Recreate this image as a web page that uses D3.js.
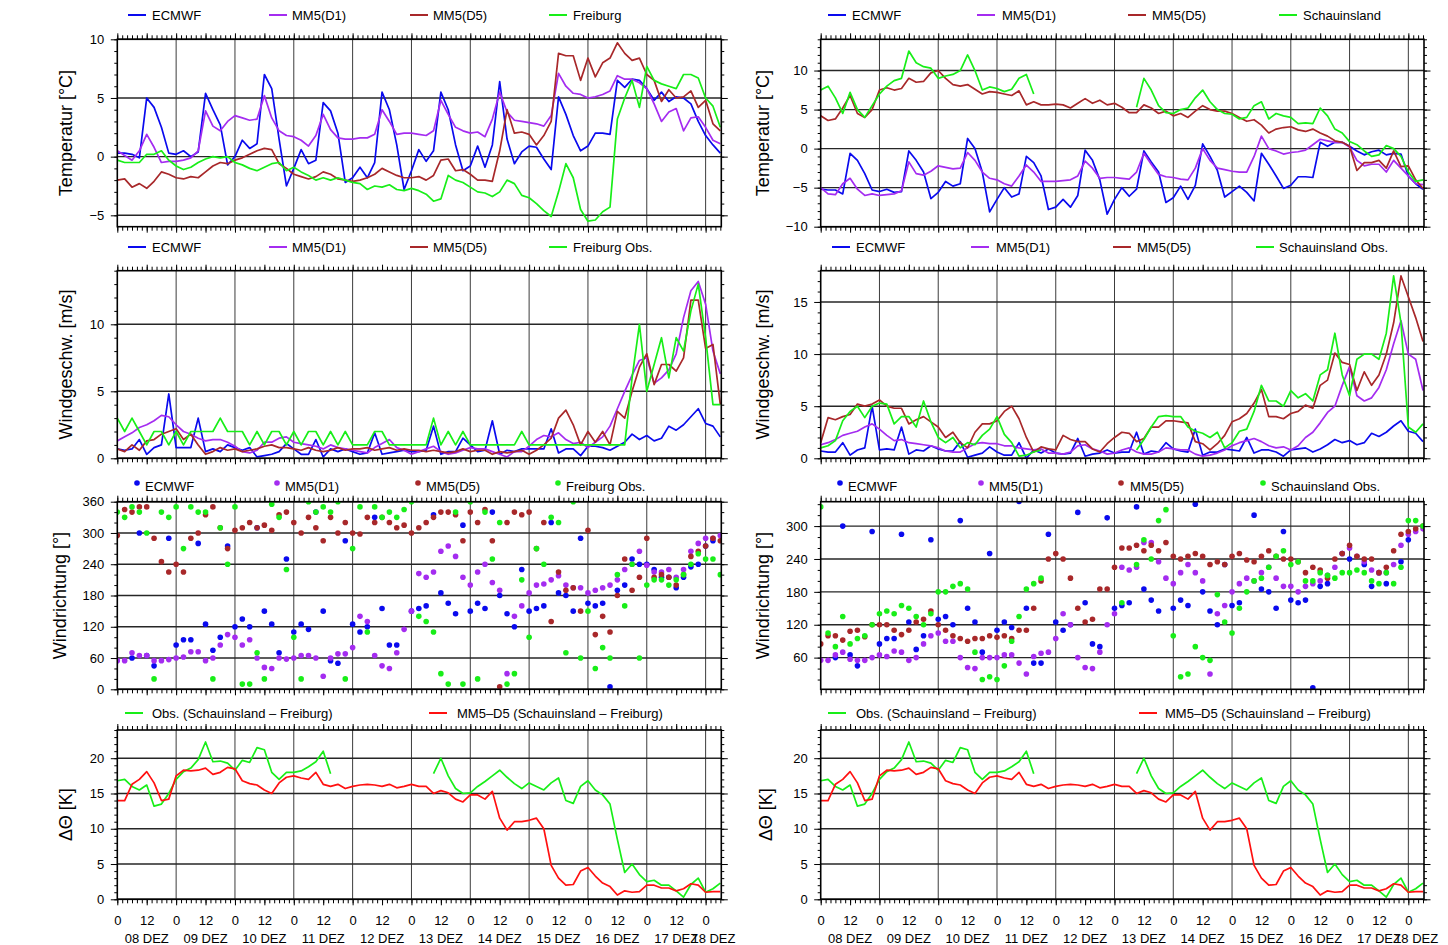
<!DOCTYPE html>
<html>
<head>
<meta charset="utf-8">
<script src="https://cdn.jsdelivr.net/npm/d3@7"></script>
<style>
  body { margin: 0; background: #fff; }
  svg { display: block; font-family: "Liberation Sans", Arial, Helvetica, sans-serif; }
  .tick text { font-family: "Liberation Sans", Arial, Helvetica, sans-serif; font-size: 13px; fill: #000; }
  .tick line { stroke: #000; stroke-width: 1; }
  .lbl { font-size: 13px; fill: #000; }
  .title { font-size: 18px; fill: #000; }
</style>
</head>
<body>
<svg width="1448" height="945"></svg>
<script>
// 3-hourly samples, 08 DEZ 00 UTC .. 18 DEZ 06 UTC
const hours = d3.range(0, 247, 3);
const hourEnd = 246.4;
const dayLabels = ["08 DEZ", "09 DEZ", "10 DEZ", "11 DEZ", "12 DEZ", "13 DEZ", "14 DEZ", "15 DEZ", "16 DEZ", "17 DEZ", "18 DEZ"];

// Freiburg temperature
const frTempEcmwf = [
  0.3, 0.3, 0.2, -0.1, 5.0, 4.2, 2.5, 0.3, 0.2, 0.5,
  0.0, 0.4, 5.4, 4.0, 2.7, -0.7, 0.0, 1.4, 0.7, 1.1,
  7.0, 5.8, 1.5, -2.5, -1.0, 0.6, -0.6, -0.3, 4.6, 3.9,
  2.0, -2.2, -1.8, -0.9, -1.8, -0.5, 5.5, 4.0, 1.0, -2.8,
  -1.2, 0.6, -0.4, 0.5, 5.5, 4.0, 1.0, -1.2, -0.8, 0.9,
  -0.9, 1.0, 6.4, 1.5, -0.6, 0.4, 0.9, 0.8, -0.2, -1.1,
  5.1, 3.6, 1.8, 0.5, 0.9, 2.0, 2.0, 1.9, 6.5, 5.9,
  6.6, 6.5, 5.8, 4.8, 5.5, 4.7, 5.1, 5.0, 4.5, 3.0,
  1.8, 1.0, 0.3
];
const frTempD1 = [
  0.5, 0.1, -0.3, 0.5, 1.9, 0.8, -0.5, -0.4, -0.4, -0.3,
  -0.1, 0.5, 3.9, 2.6, 2.2, 3.0, 3.5, 3.3, 3.1, 3.2,
  5.2, 3.3, 2.2, 1.8, 1.7, 1.4, 0.9, 1.8, 3.6, 2.3,
  1.6, 1.5, 1.5, 1.6, 1.6, 1.9, 4.0, 3.0, 1.9, 2.0,
  2.0, 1.9, 1.8, 2.2, 4.8, 3.6, 2.5, 2.2, 2.0, 2.1,
  1.7, 3.2, 5.5, 3.8, 3.1, 3.0, 2.9, 2.8, 2.6, 3.5,
  7.1, 6.0, 5.4, 5.3, 5.0, 5.1, 5.3, 5.6, 6.9, 6.6,
  6.6, 6.3, 5.8, 4.5, 3.0, 3.8, 4.1, 2.2, 3.3, 3.4,
  2.5, 1.4, 1.1
];
const frTempD5 = [
  -2.0, -1.9, -2.6, -2.3, -2.7, -2.1, -1.3, -1.5, -1.8, -1.9,
  -1.7, -1.8, -1.3, -0.8, -0.5, -0.6, -0.3, -0.1, 0.2, 0.5,
  0.7, 0.6, -0.6, -1.0, -1.5, -1.7, -1.9, -1.7, -1.3, -1.5,
  -1.9, -2.0, -2.1, -2.0, -1.8, -1.5, -1.0, -1.3, -1.6, -1.8,
  -1.8, -1.7, -2.0, -1.6, -0.3, -0.2, -1.2, -1.1, -1.5, -2.0,
  -2.0, -2.1, 0.5, 4.0, 2.0, 2.1, 1.9, 1.0, 1.8, 3.0,
  8.8, 8.6, 8.6, 6.5, 8.4, 6.8, 8.0, 8.4, 9.7, 8.8,
  8.2, 8.4, 7.0, 6.5, 4.7, 5.7, 5.0, 5.1, 5.6, 4.2,
  4.8, 2.8, 2.2
];
const frTempObs = [
  -0.3, -0.5, -0.5, -0.5, 0.2, 0.2, 0.5, -0.3, -0.8, -1.1,
  -0.9, -0.5, -0.2, 0.0, -0.1, 0.0, -0.5, -0.7, -1.0, -1.2,
  -0.9, -0.6, -0.5, -1.2, -0.9, -1.3, -1.6, -2.0, -1.8, -2.0,
  -1.8, -2.0, -2.2, -2.3, -2.8, -2.5, -2.6, -2.4, -2.8, -2.9,
  -2.7, -2.9, -3.2, -3.8, -3.6, -1.6, -2.0, -2.2, -2.6, -3.0,
  -3.1, -3.4, -3.0, -2.0, -2.3, -3.3, -3.5, -4.0, -4.6, -5.1,
  -3.0, -0.6, -1.8, -4.5, -5.5, -5.4, -4.7, -4.3, 3.2, 5.0,
  6.5, 4.2, 7.7, 6.5, 6.2, 6.0, 5.8, 7.0, 7.0, 6.7,
  5.0, 4.3, 2.5
];

// Schauinsland temperature
const siTempEcmwf = [
  -5.2, -5.3, -5.3, -5.8, -0.6, -1.5, -3.2, -5.3, -5.5, -5.2,
  -5.6, -5.5, -0.3, -1.5, -3.0, -6.4, -5.6, -4.2, -4.8, -4.5,
  1.3, 0.0, -3.0, -8.1, -6.5, -5.0, -6.2, -5.8, -1.0, -1.8,
  -3.5, -7.8, -7.5, -6.5, -7.5, -6.0, -0.2, -1.5, -4.0, -8.4,
  -6.5, -5.0, -6.1, -5.2, -0.3, -1.7, -3.0, -6.9, -6.3, -4.8,
  -6.5, -4.7, 0.6, -1.0, -2.8, -6.2, -5.5, -4.8, -5.6, -6.7,
  -0.6, -2.0, -3.5, -5.1, -4.7, -3.6, -3.6, -3.7, 0.8, 0.3,
  0.8, 0.8, 0.3, -0.3, -0.8, -0.4, -0.2, -0.8, -0.6, -0.7,
  -3.5, -4.5, -5.2
];
const siTempD1 = [
  -5.0, -5.8, -5.9, -4.5, -3.8, -5.2, -6.0, -5.8, -6.0, -5.9,
  -5.8, -5.4, -1.7, -3.2, -3.4, -2.9, -2.2, -2.4, -2.6, -2.5,
  -0.5, -1.5, -3.0, -3.8, -4.0, -4.5, -4.8, -3.5, -2.1, -3.0,
  -4.2, -4.2, -4.2, -4.1, -4.0, -3.5, -1.6, -2.5, -3.8, -3.7,
  -3.7, -3.8, -3.9, -3.0, -0.6, -2.0, -3.3, -3.6, -3.7, -3.9,
  -4.0, -2.5, 0.0, -1.5, -2.5, -2.7, -2.9, -3.0, -3.0, -1.0,
  1.6, 0.0, -0.3, -0.7, -0.5, -0.4, -0.2, 0.5, 1.2, 1.0,
  0.8, 0.8, 0.2, -1.5, -2.2, -2.0, -2.0, -3.0, -1.5, -2.5,
  -3.5, -4.5, -4.6
];
const siTempD5 = [
  4.2, 3.6, 3.8, 5.2, 6.8, 4.5, 4.0, 5.0, 7.5, 7.8,
  7.5, 7.7, 9.0, 8.5, 8.6, 9.7, 10.0, 9.0, 8.2, 8.0,
  8.2, 7.6, 7.0, 7.3, 7.2, 7.0, 6.8, 7.4, 5.6, 6.0,
  5.6, 5.6, 5.7, 5.6, 5.2, 5.8, 6.4, 5.8, 6.2, 5.6,
  5.8, 5.3, 4.6, 4.6, 5.6, 5.2, 4.5, 4.8, 4.2, 4.5,
  4.0, 4.8, 5.5, 5.0, 4.8, 4.8, 4.5, 4.0, 3.5, 3.7,
  3.0, 2.0, 2.5, 2.7, 2.8, 2.4, 2.2, 2.5, 2.0, 1.6,
  1.0, 0.8, 0.3, -2.8, -1.8, -1.8, -1.5, -2.5, -0.3, -2.3,
  -2.2, -4.0, -5.1
];
const siTempObs = [
  7.5, 8.0, 6.5, 4.5, 7.2, 5.0, 4.0, 5.5, 7.0, 8.0,
  8.7, 9.0, 12.5, 11.0, 10.5, 10.3, 9.0, 9.3, 9.5, 10.0,
  12.0, 10.0, 7.5, 7.9, 7.7, 7.3, 7.6, 9.0, 9.5, 7.0,
  null, null, null, null, null, null, null, null, null, null,
  null, null, null, 5.3, 9.0, 7.5, 5.5, 4.6, 4.5, 5.0,
  5.2, 6.5, 7.5, 6.0, 5.0, 4.5, 4.4, 3.8, 4.0, 5.5,
  6.0, 3.8, 4.5, 4.2, 4.0, 3.2, 3.3, 3.2, 5.2, 4.2,
  2.5, 2.0, 0.9, 0.5, -0.3, -1.0, -0.8, 0.4, 0.0, -1.0,
  -3.0, -4.2, -4.0
];

// Freiburg wind speed
const frWindEcmwf = [
  0.7, 0.6, 0.7, 1.4, 0.3, 0.8, 1.0, 4.8, 0.8, 0.8,
  0.8, 3.0, 0.5, 0.7, 0.5, 1.0, 0.8, 0.6, 0.8, 0.1,
  0.2, 0.3, 0.5, 1.1, 0.7, 0.3, 0.3, 1.4, 0.1, 0.7,
  0.5, 0.7, 0.5, 0.3, 0.4, 1.9, 0.3, 0.4, 0.5, 0.6,
  0.5, 0.5, 0.6, 2.4, 0.3, 0.5, 0.5, 1.5, 1.0, 0.5,
  0.6, 2.8, 0.3, 0.6, 0.5, 0.7, 0.7, 0.7, 0.7, 2.2,
  0.4, 0.7, 0.7, 0.2, 0.9, 0.9, 0.8, 0.6, 0.9, 1.2,
  1.8, 1.4, 1.7, 1.3, 1.5, 2.4, 2.1, 2.5, 3.1, 3.7,
  2.6, 2.4, 1.6
];
const frWindD1 = [
  1.3, 1.6, 1.9, 2.3, 2.5, 2.8, 3.2, 3.1, 2.5, 2.0,
  1.8, 1.5, 1.3, 1.4, 1.4, 1.2, 0.9, 0.5, 0.4, 0.6,
  1.2, 1.2, 1.5, 1.6, 1.2, 1.1, 1.0, 0.9, 0.7, 1.0,
  0.8, 0.7, 0.6, 0.5, 0.4, 0.8, 1.1, 1.4, 0.8, 0.6,
  0.3, 0.5, 0.7, 0.9, 0.5, 0.3, 0.4, 0.6, 0.8, 0.7,
  0.7, 0.5, 0.3, 0.1, 0.5, 0.5, 0.9, 1.4, 1.7, 1.6,
  1.9, 1.4, 1.1, 1.2, 0.8, 1.2, 1.6, 2.4, 3.7, 5.0,
  6.2, 7.3, 7.5, 5.6, 6.0, 6.6, 7.8, 10.5, 12.5, 13.2,
  11.5, 8.0, 6.3
];
const frWindD5 = [
  0.7, 0.5, 1.0, 0.6, 1.3, 1.4, 1.8, 2.0, 2.2, 1.4,
  1.8, 1.0, 0.3, 0.5, 0.8, 0.6, 0.7, 0.5, 0.6, 0.7,
  0.9, 1.0, 0.8, 0.8, 0.7, 0.6, 0.8, 0.6, 0.5, 0.6,
  0.8, 0.6, 0.7, 0.7, 0.8, 0.6, 0.7, 0.8, 0.6, 0.7,
  0.6, 0.6, 0.5, 0.6, 0.5, 0.4, 0.5, 0.7, 0.5, 0.6,
  0.6, 0.3, 0.5, 0.4, 0.5, 0.6, 0.3, 0.6, 1.0, 1.5,
  3.0, 3.6, 2.5, 1.0, 2.0, 1.2, 2.0, 1.0, 3.5, 3.0,
  5.0, 6.8, 7.8, 5.5, 7.0, 7.0, 6.5, 7.5, 11.8, 11.8,
  8.2, 8.5, 4.0
];
const frWindObs = [
  3, 2, 3, 2, 1, 2, 2, 1, 2, 1,
  2, 2, 2, 2, 3, 2, 2, 2, 1, 2,
  1, 2, 2, 1, 2, 1, 2, 2, 1, 2,
  1, 2, 1, 1, 1, 2, 2, 1, 1, 1,
  1, 1, 1, 3, 1, 2, 1, 2, 1, 1,
  1, 1, 1, 1, 1, 2, 1, 1, 1, 1,
  1, 1, 1, 1, 1, 1, 1, 1, 1, 1,
  6, 10, 5, 7, 9, 6, 9, 8, 11, 13,
  9, 4, 4
];

// Schauinsland wind speed
const siWindEcmwf = [
  0.7, 0.6, 0.6, 1.5, 0.3, 0.8, 1.0, 5.0, 0.8, 0.9,
  0.8, 3.0, 0.4, 0.8, 0.7, 1.2, 0.9, 0.7, 0.7, 1.6,
  0.1, 0.3, 0.5, 1.1, 0.6, 0.3, 0.3, 1.5, 0.0, 0.8,
  0.5, 0.9, 0.5, 0.4, 0.5, 1.9, 0.2, 0.4, 0.5, 0.8,
  0.5, 0.6, 0.6, 2.5, 0.4, 0.7, 0.6, 1.5, 0.9, 0.7,
  0.6, 2.8, 0.3, 0.6, 0.6, 0.9, 0.8, 0.7, 2.0, 0.5,
  0.8, 0.8, 0.6, 0.2, 0.8, 0.9, 1.0, 0.6, 0.9, 1.3,
  1.8, 1.5, 1.7, 1.3, 1.5, 2.4, 2.1, 2.5, 3.1, 3.6,
  2.6, 2.4, 1.6
];
const siWindD1 = [
  1.3, 1.5, 1.8, 2.2, 2.4, 2.6, 3.0, 3.3, 2.8, 2.2,
  1.7, 1.8, 1.5, 1.4, 1.3, 1.2, 1.0, 0.7, 0.6, 0.6,
  1.0, 1.4, 1.5, 1.4, 1.4, 1.2, 1.2, 1.0, 0.9, 0.8,
  0.9, 0.5, 0.5, 0.4, 0.6, 1.2, 1.3, 0.9, 0.7, 0.4,
  0.5, 0.8, 1.0, 0.6, 0.4, 0.4, 0.6, 1.0, 0.9, 0.8,
  0.8, 0.4, 0.2, 0.3, 0.5, 0.8, 1.2, 1.5, 1.7, 1.9,
  1.6, 1.2, 1.0, 1.1, 0.8, 1.2, 2.0, 2.5, 3.4, 4.4,
  5.0, 7.0, 8.8, 6.0, 5.5, 5.8, 6.8, 8.5, 11.0, 13.2,
  10.0, 9.5, 6.5
];
const siWindD5 = [
  1.5, 3.9, 3.7, 4.0, 4.2, 5.2, 5.0, 5.2, 5.6, 5.0,
  4.8, 4.8, 3.3, 3.7, 4.0, 3.5, 3.0, 2.0, 2.5, 1.5,
  1.0, 2.5, 3.3, 3.3, 3.6, 4.5, 5.0, 3.8, 2.0, 0.6,
  1.1, 0.9, 0.8, 2.2, 1.8, 1.6, 1.6, 0.9, 0.6, 1.4,
  2.0, 2.5, 2.4, 1.6, 1.9, 3.0, 3.0, 3.6, 3.6, 3.5,
  3.4, 1.6, 1.4, 0.8, 1.4, 2.2, 3.5, 3.8, 4.3, 5.3,
  6.6, 4.0, 4.0, 3.8, 4.3, 4.5, 5.1, 4.8, 7.0, 7.5,
  10.1, 9.2, 9.0, 6.5, 8.3, 7.0, 8.0, 10.0, 13.0, 17.5,
  15.5, 13.5, 11.2
];
const siWindObs = [
  1.0, 1.2, 1.7, 3.6, 4.5, 5.0, 3.9, 5.0, 5.3, 5.2,
  3.3, 4.0, 4.0, 3.0, 5.5, 3.5, 2.0, 1.5, 2.0, 1.0,
  1.5, 1.3, 2.2, 2.8, 4.0, 2.3, 1.5, 0.2, 0.3, 0.6,
  0.8, null, null, null, null, null, null, null, null, null,
  null, null, null, 0.8, 1.8, 3.0, 4.0, 4.1, 4.0, 4.0,
  3.0, 2.6, 2.4, 2.0, 2.5, 1.0, 1.5, 2.6, 2.8, 4.5,
  7.0, 5.5, 5.5, 5.0, 6.5, 5.8, 6.2, 5.5, 8.0, 8.5,
  12.0, 8.0, 6.0, 9.5, 10.0, 10.0, 9.5, 12.0, 17.5, 13.0,
  3.0, 2.5, 3.3
];

// Freiburg wind direction
const frDirEcmwf = [
  null, null, 60, 300, 65, 45, null, 290, 85, 95,
  95, 280, 125, 75, 100, 275, 120, 135, 120, 310,
  150, 125, 70, 250, 110, 125, 115, 340, 150, 55,
  50, 285, 125, 110, 120, 330, 155, 85, 85, null,
  150, 155, 160, 335, 185, 165, 145, 315, 150, 165,
  155, 340, 180, 145, 120, 230, 150, 155, 160, 320,
  185, 180, 150, 290, 165, 160, 165, 5, 190, 200,
  250, 240, 240, 230, 215, 215, 195, 215, 235, 240,
  275, 285, null
];
const frDirD1 = [
  55, 55, 70, 65, 65, 55, 55, 57, 60, 62,
  72, 72, 55, 60, 85, 105, 100, 85, 95, 60,
  42, 40, 60, 58, 60, 65, 65, 60, 25, 60,
  68, 68, 80, 140, 130, 65, 45, 40, 70, 115,
  150, 222, 215, 225, 265, 275, 255, 215, 200, 225,
  240, 205, 190, 30, 140, 160, 185, 200, 202, 210,
  218, 200, 195, 195, 185, 190, 195, 200, 210, 230,
  240, 265, 238, 225, 225, 230, 215, 230, 265, 280,
  290, 290, 295
];
const frDirD5 = [
  295, 345, 340, 350, 350, 290, 245, 225, 240, 225,
  290, 300, 335, 350, 310, 270, 305, 310, 320, 310,
  315, 305, 335, 340, 320, 300, 330, 310, 285, 330,
  300, 320, 300, 298, 330, 320, 330, 320, 310, 315,
  300, 310, 320, 330, 340, 340, 335, 285, 340, 320,
  345, 285, 5, 320, 340, 335, 340, 270, 320, 130,
  225, 190, 195, 150, 305, 105, 140, 110, 180, 250,
  190, 215, 290, 215, 220, 215, 200, 220, 255, 265,
  275, 290, 285
];
const frDirObs = [
  340, 330, 350, 340, 300, 20, 340, 330, 350, 270,
  350, 340, 340, 20, 310, 240, 350, 10, 10, 70,
  20, 355, 330, 230, 100, 20, 360, 340, 350, 340,
  360, 20, 270, 350, 110, 350, 330, 340, 330, 345,
  360, 140, 130, 110, 30, 10, 340, 10, 360, 20,
  340, 250, 320, 10, 30, 210, 100, 270, 240, 330,
  320, 70, 360, 60, 150, 40, 80, 60, 220, 160,
  240, 60, 200, 210, 210, 200, 210, 220, 240, 260,
  250, 250, 220
];

// Schauinsland wind direction
const siDirEcmwf = [
  null, null, 60, 300, 65, 45, null, 290, 85, 95,
  95, 285, 125, 75, 100, 275, 130, 135, 120, 310,
  150, 125, 70, 250, 110, 125, 115, 345, 150, 50,
  50, 285, 125, 110, 120, 325, 160, 85, 80, 315,
  150, 155, 160, 335, 185, 165, 145, null, 150, 165,
  155, 340, 180, 145, 120, 230, 155, 160, null, 320,
  185, 180, 150, 290, 165, 160, 165, 5, 190, 195,
  null, 250, 240, null, 230, 190, 215, 195, null, 235,
  275, null, null
];
const siDirD1 = [
  55, 55, 65, 70, 57, 55, 55, 60, 65, 62,
  72, 70, 55, 60, 85, 100, 105, 90, 90, 60,
  42, 40, 60, 60, 60, 65, 65, 50, 30, 62,
  68, 70, 95, 140, 120, 60, 42, 40, 70, 120,
  140, 225, 220, 225, 270, 270, 235, 205, 195, 215,
  230, 215, 200, 30, 140, 155, 180, 195, 205, 200,
  215, 225, 205, 190, 190, 180, 190, 195, 200, 210,
  225, 250, 260, 245, 235, 220, 215, 215, 230, 265,
  285, 290, 295
];
const siDirD5 = [
  85, 100, 100, 92, 108, 110, 98, 120, 120, 120,
  110, 102, 110, 125, 130, 145, 120, 110, 100, 95,
  90, 95, 95, 100, 97, 100, 95, 110, 110, 150,
  200, 240, 250, 240, 205, 150, 125, 130, 185, 185,
  225, 260, 260, 265, 255, 265, 255, 270, 245, 240,
  245, 250, 245, 230, 235, 230, 245, 250, 238, 235,
  245, 255, 245, 240, 240, 235, 215, 225, 220, 205,
  240, 250, 265, 245, 240, 240, 215, 225, 255, 285,
  290, 295, 300
];
const siDirObs = [
  335, 105, 80, 135, 85, 95, 100, 120, 140, 145,
  140, 155, 150, 135, 120, 140, 180, 180, 190, 195,
  185, 70, 20, 25, 20, 45, 90, 135, 185, 195,
  205, null, null, null, null, null, null, null, null, null,
  null, 160, null, 230, 275, 240, 310, 330, 100, 25,
  30, 80, 60, 55, 175, 125, 105, 150, 180, 200,
  205, 225, 245, 255, 230, 235, 200, 200, 215, 210,
  205, 215, 215, 220, 215, 200, 195, 215, 195, 225,
  310, 310, 300
];

// potential temperature difference Schauinsland - Freiburg
const dthObs = [
  16.8, 17.0, 16.0, 15.5, 16.2, 13.2, 13.5, 15.0, 17.0, 18.1,
  18.6, 19.8, 22.3, 19.5, 19.6, 19.3, 18.3, 19.7, 19.4, 21.5,
  21.2, 18.0, 17.0, 18.0, 18.0, 18.2, 18.8, 19.5, 21.0, 17.8,
  null, null, null, null, null, null, null, null, null, null,
  null, null, null, 17.8, 20.0, 17.5, 15.7, 15.0, 15.1, 16.0,
  16.7, 17.5, 18.3, 17.3, 16.4, 15.7, 16.5, 16.0, 15.5, 16.5,
  17.2, 14.0, 13.6, 16.0, 16.8, 15.5, 14.8, 13.5, 8.5, 3.8,
  5.0, 3.5, 2.5, 2.7, 2.0, 2.0, 1.2, 0.3, 2.1, 3.0,
  1.0, 1.5, 2.3
];
const dthMm5 = [
  14.0, 14.0, 16.3, 17.0, 18.1, 16.5, 14.0, 14.2, 17.5, 18.3,
  18.2, 18.3, 18.6, 17.7, 18.0, 18.7, 18.5, 16.8, 16.4, 16.2,
  15.5, 15.0, 16.5, 17.3, 17.5, 17.2, 17.0, 18.0, 16.3, 16.0,
  16.3, 15.7, 16.0, 16.2, 16.3, 16.2, 16.0, 16.3, 15.8, 16.0,
  16.3, 16.0, 16.0, 15.0, 15.4, 15.1, 14.2, 13.8, 14.8, 14.8,
  14.2, 15.3, 11.5, 9.8, 11.0, 11.0, 11.2, 11.5, 10.0, 4.8,
  3.0, 2.0, 2.1, 4.0, 4.5, 3.3, 2.3, 1.8, 0.6, 1.2,
  1.0, 1.1, 2.0, 2.0, 1.6, 1.6, 1.2, 1.5, 2.2, 2.0,
  1.0, 1.1, 1.1
];

const cEcmwf = "#0a0aee";
const cD1 = "#a42cf0";
const cD5 = "#a8282a";
const cObs = "#18ee18";
const cRed = "#ff1010";

const rows = [
  { top: 39.3, bottom: 226.7, legendY: 15 },
  { top: 270.7, bottom: 458.3, legendY: 247 },
  { top: 501.7, bottom: 689.3, legendY: 485 },
  { top: 730, bottom: 899.3, legendY: 713 }
];

const lineItems = (labels, colors, lx, tx) => labels.map((label, i) => ({ label, color: colors[i], lx: lx[i], tx: tx[i] }));
const models = ["ECMWF", "MM5(D1)", "MM5(D5)"];
const mcol = [cEcmwf, cD1, cD5, cObs];
const dthLabels = ["Obs. (Schauinsland \u2013 Freiburg)", "MM5\u2013D5 (Schauinsland \u2013 Freiburg)"];

const columns = [
  {
    id: "fr",
    xRange: [117.3, 721.3],
    titleX: [66, 66, 60, 66],
    panels: [
      { domain: [-5.97, 10], ticks: [-5, 0, 5, 10], minor: 1, title: "Temperatur [\u00b0C]",
        series: [frTempEcmwf, frTempD1, frTempD5, frTempObs],
        legend: lineItems([...models, "Freiburg"], mcol, [128, 269, 410, 549], [152, 292, 433, 573]) },
      { domain: [0, 14], ticks: [0, 5, 10], minor: 1, title: "Windgeschw. [m/s]",
        series: [frWindEcmwf, frWindD1, frWindD5, frWindObs],
        legend: lineItems([...models, "Freiburg Obs."], mcol, [128, 269, 410, 549], [152, 292, 433, 573]) },
      { domain: [0, 360], ticks: [0, 60, 120, 180, 240, 300, 360], minor: 20, title: "Windrichtung [\u00b0]", dots: true,
        series: [frDirEcmwf, frDirD1, frDirD5, frDirObs],
        legend: lineItems([...models, "Freiburg Obs."], mcol, [137, 277, 418, 558], [145, 285, 426, 566]) },
      { domain: [0, 24], ticks: [0, 5, 10, 15, 20], minor: 1, title: "\u0394\u0398 [K]", bottomLabels: true,
        series: [dthObs, dthMm5], colors: [cObs, cRed],
        legend: lineItems(dthLabels, [cObs, cRed], [125, 429], [152, 457]) }
    ]
  },
  {
    id: "si",
    xRange: [820.7, 1424],
    titleX: [763, 763, 763, 766],
    panels: [
      { domain: [-10, 14], ticks: [-10, -5, 0, 5, 10], minor: 1, title: "Temperatur [\u00b0C]",
        series: [siTempEcmwf, siTempD1, siTempD5, siTempObs],
        legend: lineItems([...models, "Schauinsland"], mcol, [828, 977, 1128, 1279], [852, 1002, 1152, 1303]) },
      { domain: [0, 18], ticks: [0, 5, 10, 15], minor: 1, title: "Windgeschw. [m/s]",
        series: [siWindEcmwf, siWindD1, siWindD5, siWindObs],
        legend: lineItems([...models, "Schauinsland Obs."], mcol, [832, 971, 1113, 1256], [856, 996, 1137, 1279]) },
      { domain: [2.2, 344.5], ticks: [60, 120, 180, 240, 300], minor: 20, title: "Windrichtung [\u00b0]", dots: true,
        series: [siDirEcmwf, siDirD1, siDirD5, siDirObs],
        legend: lineItems([...models, "Schauinsland Obs."], mcol, [840, 981, 1121, 1263], [848, 989, 1130, 1271]) },
      { domain: [0, 24], ticks: [0, 5, 10, 15, 20], minor: 1, title: "\u0394\u0398 [K]", bottomLabels: true,
        series: [dthObs, dthMm5], colors: [cObs, cRed],
        legend: lineItems(dthLabels, [cObs, cRed], [828, 1139], [856, 1165]) }
    ]
  }
];

const drawPanel = (svg, col, p, row, idx) => {
  const [x0, x1] = col.xRange;
  const x = d3.scaleLinear().domain([0, hourEnd]).range(col.xRange);
  const y = d3.scaleLinear().domain(p.domain).range([row.bottom, row.top]);
  const g = svg.append("g");
  const clipId = `clip-${col.id}-${idx}`;

  g.append("clipPath").attr("id", clipId)
    .append("rect")
      .attr("x", x0).attr("y", row.top)
      .attr("width", x1 - x0).attr("height", row.bottom - row.top);

  // grid
  g.append("g").selectAll("line")
    .data(d3.range(24, hourEnd, 24))
    .join("line")
      .attr("x1", x).attr("x2", x)
      .attr("y1", row.top).attr("y2", row.bottom)
      .attr("stroke", "#3c3c3c").attr("stroke-width", 1);

  g.append("g").selectAll("line")
    .data(p.ticks)
    .join("line")
      .attr("x1", x0).attr("x2", x1)
      .attr("y1", y).attr("y2", y)
      .attr("stroke", "#262626").attr("stroke-width", 1.4);

  // data
  const plot = g.append("g").attr("clip-path", `url(#${clipId})`);
  const colors = p.colors || mcol;
  p.series.forEach((values, k) => {
    const pts = hours.map((h, i) => [h, values[i]]);
    if (p.dots) {
      plot.append("g").selectAll("circle")
        .data(pts.filter(d => d[1] != null))
        .join("circle")
          .attr("cx", d => x(d[0]))
          .attr("cy", d => y(d[1]))
          .attr("r", 2.8)
          .attr("fill", colors[k]);
    } else {
      const line = d3.line()
        .defined(d => d[1] != null)
        .x(d => x(d[0]))
        .y(d => y(d[1]));
      plot.append("path")
        .datum(pts)
        .attr("fill", "none")
        .attr("stroke", colors[k])
        .attr("stroke-width", 1.7)
        .attr("stroke-linejoin", "round")
        .attr("d", line);
    }
  });

  // axes
  const [lo, hi] = p.domain;
  const minorY = d3.range(Math.ceil(lo / p.minor) * p.minor, hi + 1e-6, p.minor);
  const minorX = d3.range(0, hourEnd, 2);
  const majorX = d3.range(0, hourEnd, 12);

  const addAxis = (axis, tx, ty) => g.append("g")
    .attr("transform", `translate(${tx},${ty})`)
    .call(axis)
    .call(a => a.select(".domain").remove());

  addAxis(d3.axisLeft(y).tickValues(minorY).tickSize(3).tickFormat(""), x0, 0);
  addAxis(d3.axisLeft(y).tickValues(p.ticks).tickSize(6.5).tickPadding(6.5), x0, 0);
  addAxis(d3.axisRight(y).tickValues(minorY).tickSize(3).tickFormat(""), x1, 0);
  addAxis(d3.axisRight(y).tickValues(p.ticks).tickSize(6.5).tickFormat(""), x1, 0);
  addAxis(d3.axisTop(x).tickValues(minorX).tickSize(4).tickFormat(""), 0, row.top);
  addAxis(d3.axisTop(x).tickValues(majorX).tickSize(6).tickFormat(""), 0, row.top);
  addAxis(d3.axisBottom(x).tickValues(minorX).tickSize(4).tickFormat(""), 0, row.bottom);
  if (p.bottomLabels) {
    addAxis(d3.axisBottom(x).tickValues(majorX.filter(h => h <= 240)).tickSize(6).tickPadding(10).tickFormat(h => h % 24), 0, row.bottom);
    g.append("g").selectAll("text")
      .data(dayLabels)
      .join("text")
        .attr("class", "lbl")
        .attr("text-anchor", "middle")
        .attr("x", (d, i) => x((i * 24 + Math.min(i * 24 + 24, hourEnd)) / 2))
        .attr("y", 943)
        .text(d => d);
  } else {
    addAxis(d3.axisBottom(x).tickValues(majorX).tickSize(6).tickFormat(""), 0, row.bottom);
  }

  // frame
  g.append("rect")
    .attr("x", x0).attr("y", row.top)
    .attr("width", x1 - x0).attr("height", row.bottom - row.top)
    .attr("fill", "none")
    .attr("stroke", "#000")
    .attr("stroke-width", 1.6);

  // axis title
  const cy = (row.top + row.bottom) / 2;
  g.append("text")
    .attr("class", "title")
    .attr("text-anchor", "middle")
    .attr("dominant-baseline", "central")
    .attr("transform", `translate(${col.titleX[idx]},${cy}) rotate(-90)`)
    .text(p.title);

  // legend
  const leg = g.append("g").selectAll("g")
    .data(p.legend)
    .join("g");
  if (p.dots) {
    leg.append("circle")
      .attr("cx", d => d.lx)
      .attr("cy", row.legendY - 2)
      .attr("r", 2.8)
      .attr("fill", d => d.color);
  } else {
    leg.append("line")
      .attr("x1", d => d.lx).attr("x2", d => d.lx + 18)
      .attr("y1", row.legendY).attr("y2", row.legendY)
      .attr("stroke", d => d.color)
      .attr("stroke-width", 2);
  }
  leg.append("text")
    .attr("class", "lbl")
    .attr("x", d => d.tx)
    .attr("y", row.legendY + (p.dots ? 5.5 : 4.5))
    .text(d => d.label);
};

window.onload = () => {
  const svg = d3.select("svg");
  svg.append("rect").attr("width", 1448).attr("height", 945).attr("fill", "#fff");

  columns.forEach(col => {
    col.panels.forEach((p, i) => drawPanel(svg, col, p, rows[i], i));
  });
};
</script>
</body>
</html>
